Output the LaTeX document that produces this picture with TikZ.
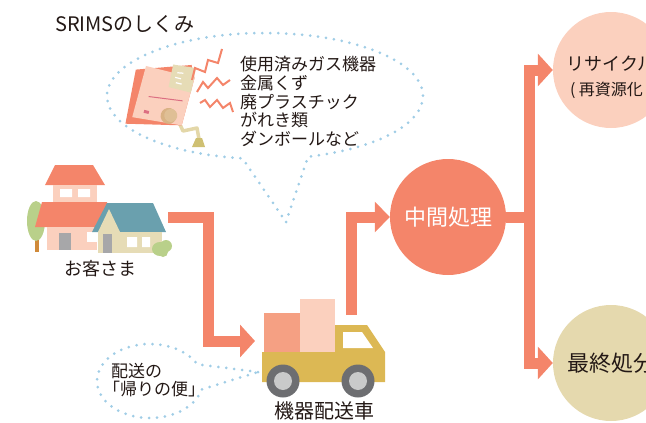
\documentclass[tikz,border=0pt]{standalone}
\usepackage{fontspec}
\setmainfont{Noto Sans CJK JP}
\usepackage{tikz}
\usetikzlibrary{arrows.meta, positioning, shapes.geometric, shapes.callouts}
\definecolor{srsalmon}{RGB}{244,133,106}
\definecolor{srpink}{RGB}{251,208,190}
\definecolor{srpeach}{RGB}{245,160,131}
\definecolor{srbeige}{RGB}{229,217,174}
\definecolor{srmustard}{RGB}{220,184,84}
\definecolor{srdots}{RGB}{160,205,230}
\definecolor{srink}{RGB}{35,24,21}
\definecolor{srteal}{RGB}{106,160,174}
\definecolor{srcream}{RGB}{230,220,182}
\definecolor{srleaf}{RGB}{185,208,138}
\definecolor{srtrunk}{RGB}{208,138,58}
\definecolor{srgray}{RGB}{167,167,169}
\definecolor{srtyre}{RGB}{109,110,113}
\definecolor{srhub}{RGB}{201,202,202}
\definecolor{srtan}{RGB}{223,191,149}
\definecolor{srolive}{RGB}{207,192,114}
\definecolor{srpipe}{RGB}{227,215,168}
\definecolor{srrose}{RGB}{220,110,130}
\tikzset{
  flow/.style={line width=11pt, color=srsalmon, line join=miter,
    -{Triangle[length=15pt, width=32pt]}},
  bubble/.style={ellipse callout, draw=srdots, line width=3pt,
    line cap=round, dash pattern=on 0pt off 8pt},
  disc/.style={circle, inner sep=0pt, minimum size=116pt, align=center},
  caption/.style={text=srink, inner sep=0pt},
  zigzag/.style={draw=srsalmon, line width=2pt, line join=miter}
}

\begin{document}
\begin{tikzpicture}[x=1pt, y=-1pt]
  \useasboundingbox (0,0) rectangle (646,423);
  \clip (0,0) rectangle (646,423);

  % Title
  \node[caption, anchor=west, font=\fontsize{20}{21}\selectfont] (title) at (55,24) {SRIMSのしくみ};

  % Dotted speech bubbles
  \node[bubble, minimum width=316pt, minimum height=126pt,
        callout absolute pointer={(286,222)}, callout pointer arc=24] (wastebubble) at (265,96) {};
  \node[bubble, minimum width=106pt, minimum height=74pt,
        callout absolute pointer={(258,372)}, callout pointer arc=40] (returnbubble) at (150,381) {};

  % What gets collected
  \node[caption, anchor=north west, align=left, font=\fontsize{17}{18.75}\selectfont] (waste) at (240,56)
    {使用済みガス機器\\金属くず\\廃プラスチック\\がれき類\\ダンボールなど};

  % Old gas heater
  \draw[srpipe, line width=3.5pt, line join=round] (177,118) -- (183,131) -- (197,128) -- (199,139);
  \fill[srolive] (196,138) -- (202,138) -- (205,147) -- (192,147) -- cycle;
  \begin{scope}[shift={(163,97)}, rotate=-14]
    \fill[srsalmon] (-33,-20) -- (20,-38) -- (26,-26) -- (25,23) -- (-30,35) -- cycle;
    \fill[srpink] (-24,-26) -- (26,-26) -- (25,23) -- (-25,27) -- cycle;
    \fill[srcream] (2,-34) -- (25,-36) -- (26,-11) -- (3,-11) -- cycle;
    \draw[white, line width=1.2pt] (8,-27) -- (14,-28) (7,-22) -- (13,-22) (9,-17) -- (15,-17);
    \draw[srrose, line width=1pt] (-14,3) -- (20,-1);
    \fill[srtan!80!brown] (10,17) circle (8pt);
    \fill[srtan] (12,16) circle (6.5pt);
    \fill[srrose] (-15,17) rectangle (-10,20);
  \end{scope}
  \draw[zigzag] (192,80) -- (195,68) -- (205,72) -- (208,60) -- (218,63) -- (222,49);
  \draw[zigzag] (197,92) -- (203,82) -- (208,88) -- (217,78) -- (223,85) -- (230,80);
  \draw[zigzag] (200,103) -- (205,100) -- (210,107) -- (217,100) -- (223,108) -- (230,103) -- (233,112);

  % Houses
  \fill[srtrunk] (35,238) rectangle (39,252);
  \fill[srleaf] (36,221) ellipse (9pt and 20pt);
  \fill[srsalmon] (55,165) -- (93,165) -- (105,185) -- (45,185) -- cycle;
  \fill[srpink] (53,185) rectangle (97,202);
  \fill[white] (60,189) rectangle (72,197) (78,189) rectangle (90,197);
  \fill[srsalmon] (42,202) -- (107,202) -- (107,227) -- (35,227) -- cycle;
  \fill[srpink] (47,227) rectangle (97,250);
  \fill[srgray] (59,233) rectangle (71,250);
  \fill[white] (87,232) rectangle (98,242);
  \fill[srteal] (107,203) -- (153,203) -- (166,232) -- (92,232) -- cycle;
  \fill[srcream] (98,232) -- (109,209) -- (120,232) -- cycle;
  \fill[srcream] (98,232) rectangle (162,253);
  \fill[srgray] (103,234) rectangle (112,253);
  \fill[white] (127,237) rectangle (137,247) (142,237) rectangle (150,247);
  \fill[srleaf] (160,249) ellipse (8pt and 7pt) (166,246) circle (6pt) (163,252) circle (5pt);
  \node[caption, font=\fontsize{18}{20}\selectfont] (customer) at (100,269) {お客さま};

  % Delivery truck
  \fill[srpeach] (264,313) rectangle (300,353);
  \fill[srpink] (300,299) rectangle (335,353);
  \fill[srmustard] (262,352) -- (335,352) -- (335,325) -- (367,325) -- (385,352)
    -- (385,382) -- (262,382) -- cycle;
  \fill[white] (343,332) -- (362,332) -- (373,348) -- (343,348) -- cycle;
  \foreach \wx in {283,358} {
    \fill[srtyre] (\wx,381) circle (16.5pt);
    \fill[srhub] (\wx,381) circle (9pt);
  }
  \node[caption, font=\fontsize{20}{22}\selectfont] (trucklabel) at (324,411) {機器配送車};

  \node[caption, anchor=north west, align=left, font=\fontsize{17}{18}\selectfont] (returntrip) at (111,363)
    {配送の\\\hspace*{-8pt}「帰りの便」};

  % Processing
  \node[disc, fill=srsalmon, text=white, font=\fontsize{22}{24}\selectfont] (mid) at (448,217) {中間処理};
  \node[disc, fill=srpink, text=srink, font=\fontsize{18}{25}\selectfont] (recycle) at (611,70)
    {\rule{0pt}{30pt}リサイクル\\{\fontsize{16}{18}\selectfont ( 再資源化 )}};
  \node[disc, fill=srbeige, text=srink, font=\fontsize{22}{24}\selectfont] (landfill) at (611,363) {最終処分};

  % Flow arrows
  \coordinate (homeout) at (168,217);
  \coordinate (cargoin) at (255,341);
  \coordinate (cabout) at (351,315);
  \draw[flow] (homeout) -- ++(40,0) |- (cargoin);
  \draw[flow, -{Triangle[length=15pt, width=30pt]}] (cabout) |- (mid.west);
  \draw[flow] (mid.east) -- ++(23,0) |- (recycle.west);
  \draw[flow] (mid.east) -- ++(23,0) |- (landfill.west);
\end{tikzpicture}
\end{document}
